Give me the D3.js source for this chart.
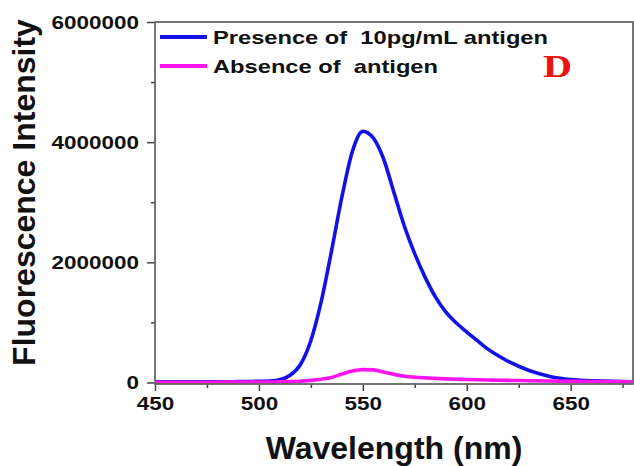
<!DOCTYPE html>
<html>
<head>
<meta charset="utf-8">
<script src="https://cdn.jsdelivr.net/npm/d3@7"></script>
<style>
  body { margin: 0; background: #fff; }
  svg { display: block; }
</style>
</head>
<body>
<div id="chart"></div>
<script>
// wavelength (nm) and fluorescence intensity
const wavelengths = [450, 455, 460, 465, 470, 475, 480, 485, 490, 495, 500, 505, 510, 515, 520, 525, 530, 535, 540, 545,
    550, 555, 560, 565, 570, 575, 580, 585, 590, 595, 600, 605, 610, 615, 620, 625, 630, 635, 640, 645,
    650, 655, 660, 665, 670, 675, 680];
const presence = [10000, 10000, 10000, 10000, 10000, 10000, 12000, 12000, 15000, 15000, 20000, 25000, 45000, 120000, 300000, 700000, 1350000, 2200000, 3100000, 3850000,
    4180000, 4070000, 3720000, 3160000, 2600000, 2140000, 1750000, 1420000, 1170000, 990000, 840000, 700000, 560000, 450000, 350000, 270000, 200000, 145000, 100000, 70000,
    50000, 38000, 30000, 25000, 20000, 16000, 13000];
const absence = [5000, 5000, 5000, 5000, 5000, 5000, 5000, 6000, 6000, 7000, 7000, 8000, 10000, 15000, 20000, 35000, 55000, 85000, 140000, 190000,
    215000, 210000, 175000, 135000, 105000, 88000, 77000, 68000, 60000, 55000, 50000, 45000, 41000, 38000, 35000, 32000, 30000, 27000, 25000, 22000,
    20000, 18000, 16000, 14000, 12000, 11000, 10000];
const seriesNames = ["Presence of  10pg/mL antigen", "Absence of  antigen"];
const seriesColors = ["#1212e6", "#ff14f0"];
const yTicks = [0, 2000000, 4000000, 6000000];
const yMinor = [1000000, 3000000, 5000000];
const xTicks = [450, 500, 550, 600, 650];
const xMinor = [475, 525, 575, 625, 675];

function drawChart() {
    const width = 634, height = 466;
    const left = 155, right = 633, top = 22, bottom = 384;
    const svg = d3.select("#chart").append("svg").attr("width", width).attr("height", height);

    const x = d3.scaleLinear().domain([450, 680]).range([left, right]);
    const y = d3.scaleLinear().domain([-25000, 6000000]).range([bottom, top]);

    svg.append("defs").append("clipPath").attr("id", "plot")
        .append("rect").attr("x", left).attr("y", top).attr("width", right - left).attr("height", bottom - top);

    const tickFont = "'Liberation Sans', Arial, sans-serif";

    // y axis
    const gy = svg.append("g").attr("transform", `translate(${left},0)`)
        .call(d3.axisLeft(y).tickValues(yTicks).tickSize(8).tickPadding(8).tickFormat(d3.format("d")));
    gy.select(".domain").remove();
    gy.selectAll("line").attr("stroke", "#444").attr("stroke-width", 1.5);
    gy.selectAll("text").attr("font-family", tickFont).attr("font-weight", "bold").attr("font-size", 19)
        .attr("fill", "#111").attr("textLength", d => String(d).length * 12.5).attr("lengthAdjust", "spacingAndGlyphs");
    svg.append("g").attr("transform", `translate(${left},0)`)
        .call(d3.axisLeft(y).tickValues(yMinor).tickSize(4).tickFormat(""))
        .call(g => g.select(".domain").remove())
        .selectAll("line").attr("stroke", "#444").attr("stroke-width", 1.5);

    // x axis
    const gx = svg.append("g").attr("transform", `translate(0,${bottom})`)
        .call(d3.axisBottom(x).tickValues(xTicks).tickSize(7).tickPadding(6));
    gx.select(".domain").remove();
    gx.selectAll("line").attr("stroke", "#444").attr("stroke-width", 1.5);
    gx.selectAll("text").attr("font-family", tickFont).attr("font-weight", "bold").attr("font-size", 19)
        .attr("fill", "#111").attr("textLength", d => String(d).length * 12.5).attr("lengthAdjust", "spacingAndGlyphs");
    svg.append("g").attr("transform", `translate(0,${bottom})`)
        .call(d3.axisBottom(x).tickValues(xMinor).tickSize(4).tickFormat(""))
        .call(g => g.select(".domain").remove())
        .selectAll("line").attr("stroke", "#444").attr("stroke-width", 1.5);

    // curves
    const line = d3.line().x((d, i) => x(wavelengths[i])).y(d => y(d)).curve(d3.curveMonotoneX);
    const plot = svg.append("g").attr("clip-path", "url(#plot)");
    [presence, absence].forEach((s, k) => {
        plot.append("path").datum(s).attr("d", line).attr("fill", "none")
            .attr("stroke", seriesColors[k]).attr("stroke-width", 3.6).attr("stroke-linejoin", "round");
    });

    // frame
    svg.append("rect").attr("x", left).attr("y", top).attr("width", right - left).attr("height", bottom - top)
        .attr("fill", "none").attr("stroke", "#666").attr("stroke-width", 1.8);

    // legend
    const legendY = [37, 66];
    const legendW = [335, 225];
    seriesNames.forEach((name, k) => {
        svg.append("line").attr("x1", 160).attr("x2", 207).attr("y1", legendY[k]).attr("y2", legendY[k])
            .attr("stroke", seriesColors[k]).attr("stroke-width", 4);
        svg.append("text").attr("x", 213).attr("y", legendY[k] + 6.5).text(name)
            .style("white-space", "pre").attr("font-family", tickFont).attr("font-weight", "bold")
            .attr("font-size", 18.5).attr("fill", "#111")
            .attr("textLength", legendW[k]).attr("lengthAdjust", "spacingAndGlyphs");
    });

    svg.append("text").attr("x", 543).attr("y", 77).text("D")
        .attr("font-family", "'Liberation Serif', 'Times New Roman', serif").attr("font-weight", "bold")
        .attr("font-size", 32).attr("fill", "#f01010")
        .attr("textLength", 29).attr("lengthAdjust", "spacingAndGlyphs");

    // axis titles
    svg.append("text").attr("x", 394).attr("y", 459).attr("text-anchor", "middle").text("Wavelength (nm)")
        .attr("font-family", tickFont).attr("font-weight", "bold").attr("font-size", 32).attr("fill", "#111");
    svg.append("text").attr("transform", "translate(35,192.5) rotate(-90)").attr("text-anchor", "middle")
        .text("Fluorescence Intensity")
        .attr("font-family", tickFont).attr("font-weight", "bold").attr("font-size", 32).attr("fill", "#111");
}

document.addEventListener("DOMContentLoaded", () => {
    drawChart();
});
</script>
</body>
</html>
